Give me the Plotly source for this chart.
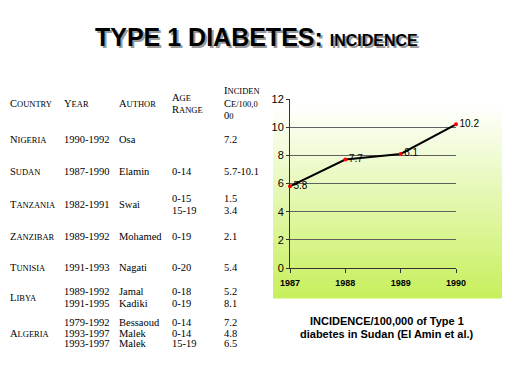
import plotly.graph_objects as go

# ---------------- data ----------------
chart_years = [1987, 1988, 1989, 1990]
chart_year_labels = ["1987", "1988", "1989", "1990"]
sudan_incidence = [5.8, 7.7, 8.1, 10.2]
y_ticks = [0, 2, 4, 6, 8, 10, 12]

countries = ["Nigeria", "Sudan", "Tanzania", "Zanzibar", "Tunisia", "Libya", "Algeria"]
study_years = [["1990-1992"], ["1987-1990"], ["1982-1991"], ["1989-1992"], ["1991-1993"],
               ["1989-1992", "1991-1995"], ["1979-1992", "1993-1997", "1993-1997"]]
authors = [["Osa"], ["Elamin"], ["Swai"], ["Mohamed"], ["Nagati"],
           ["Jamal", "Kadiki"], ["Bessaoud", "Malek", "Malek"]]
age_ranges = [[""], ["0-14"], ["0-15", "15-19"], ["0-19"], ["0-20"],
              ["0-18", "0-19"], ["0-14", "0-14", "15-19"]]
incidences = [["7.2"], ["5.7-10.1"], ["1.5", "3.4"], ["2.1"], ["5.4"],
              ["5.2", "8.1"], ["7.2", "4.8", "6.5"]]
headers = ["Country", "Year", "Author", ["Age", "Range"], ["Inciden", "ce/100,0", "00"]]

title_main = "TYPE 1 DIABETES:"
title_sub = "INCIDENCE"
caption = ["INCIDENCE/100,000 of Type 1", "diabetes in Sudan (El Amin et al.)"]

# ---------------- layout helpers ----------------
W, H = 512, 384
SERIF = "Liberation Serif, Times New Roman, serif"
SANS = "Liberation Sans, Arial, sans-serif"
TFS = 10.5  # table font size


def px(x):
    return x / W


def py(y):
    return 1 - y / H


def small_caps(word, small=8.5):
    out = []
    for w in word.split(" "):
        if not w:
            continue
        out.append(w[0].upper() + "<span style='font-size:%spx'>%s</span>" % (small, w[1:].upper()))
    return " ".join(out)


fig = go.Figure()

fig.add_trace(go.Scatter(
    x=chart_years, y=sudan_incidence, mode="lines+markers+text",
    line=dict(color="black", width=2),
    marker=dict(color="red", size=4),
    text=[str(v) for v in sudan_incidence], textposition="middle right",
    textfont=dict(family=SANS, size=10, color="black"),
    cliponaxis=False, showlegend=False, hoverinfo="skip"))

annotations = []
shapes = []

# gradient panel behind chart
x0, x1, y0, y1 = 273, 502, 88, 298
N = 60
for i in range(N):
    ya = y0 + (y1 - y0) * i / N
    yb = y0 + (y1 - y0) * (i + 1) / N
    t = max(0.0, ((ya + yb) / 2 - 105) / (y1 - 105))
    r = round(255 + (200 - 255) * t)
    g = round(255 + (240 - 255) * t)
    b = round(255 + (92 - 255) * t)
    shapes.append(dict(type="rect", xref="paper", yref="paper", layer="below",
                       x0=px(x0), x1=px(x1), y0=py(yb) - 0.001, y1=py(ya),
                       line=dict(width=0), fillcolor="rgb(%d,%d,%d)" % (r, g, b)))

# title with drop shadow
title_html = "<b>%s <span style='font-size:16px'>%s</span></b>" % (title_main, title_sub)
annotations.append(dict(text=title_html, x=px(256), y=py(37), xref="paper", yref="paper",
                        xanchor="center", yanchor="middle", showarrow=False,
                        font=dict(family=SANS, size=25, color="black",
                                  shadow="2px 2px 0px #9a9a9a")))

# table header
col_x = [8, 62, 117, 170, 222]
for cx, h in zip(col_x, headers):
    lines = h if isinstance(h, list) else [h]
    n = len(lines)
    ys = {1: [104], 2: [97, 110], 3: [91, 103, 116]}[n]
    for yy, ln in zip(ys, lines):
        annotations.append(dict(text=small_caps(ln), x=px(cx), y=py(yy), xref="paper", yref="paper",
                                xanchor="left", yanchor="middle", showarrow=False,
                                font=dict(family=SERIF, size=TFS, color="black")))

# table body
row_y = [139, 171, 204, 236, 267, 297, 333]
line_gap = {1: [0], 2: [-6, 6], 3: [-11, 0, 10]}


def add_cells(cx, cells, yc):
    for off, txt in zip(line_gap[len(cells)], cells):
        if txt == "":
            continue
        annotations.append(dict(text=txt, x=px(cx), y=py(yc + off), xref="paper", yref="paper",
                                xanchor="left", yanchor="middle", showarrow=False,
                                font=dict(family=SERIF, size=TFS, color="black")))


for i, c in enumerate(countries):
    yc = row_y[i]
    annotations.append(dict(text=small_caps(c), x=px(col_x[0]), y=py(yc), xref="paper", yref="paper",
                            xanchor="left", yanchor="middle", showarrow=False,
                            font=dict(family=SERIF, size=TFS, color="black")))
    add_cells(col_x[1], study_years[i], yc)
    add_cells(col_x[2], authors[i], yc)
    add_cells(col_x[3], age_ranges[i], yc)
    add_cells(col_x[4], incidences[i], yc)

# caption
for k, ln in enumerate(caption):
    annotations.append(dict(text="<b>%s</b>" % ln, x=px(387), y=py(321 + 13 * k), xref="paper", yref="paper",
                            xanchor="center", yanchor="middle", showarrow=False,
                            font=dict(family=SANS, size=11, color="black")))

fig.update_layout(
    template="none",
    width=W, height=H, margin=dict(l=0, r=0, t=0, b=0, pad=0, autoexpand=False),
    paper_bgcolor="white", plot_bgcolor="rgba(0,0,0,0)",
    annotations=annotations, shapes=shapes, showlegend=False,
    xaxis=dict(domain=[px(290), px(456)], range=[1987, 1990], tickvals=chart_years,
               ticktext=chart_year_labels, showgrid=False, zeroline=False, automargin=False,
               showline=True, linecolor="#333", linewidth=1,
               ticks="outside", ticklen=4, tickcolor="#333", ticklabelstandoff=2,
               tickfont=dict(family=SANS, size=9, color="black", weight="bold")),
    yaxis=dict(domain=[py(268), py(99)], range=[0, 12], tickvals=y_ticks,
               showgrid=True, gridcolor="#606060", gridwidth=1, zeroline=False, automargin=False,
               showline=True, linecolor="#333", linewidth=1,
               ticks="outside", ticklen=3, tickcolor="#333",
               tickfont=dict(family=SANS, size=11, color="black")),
)

fig.write_html("out.html", config={"displayModeBar": False},
               post_script="document.body.style.margin='0';document.body.style.overflow='hidden';")
